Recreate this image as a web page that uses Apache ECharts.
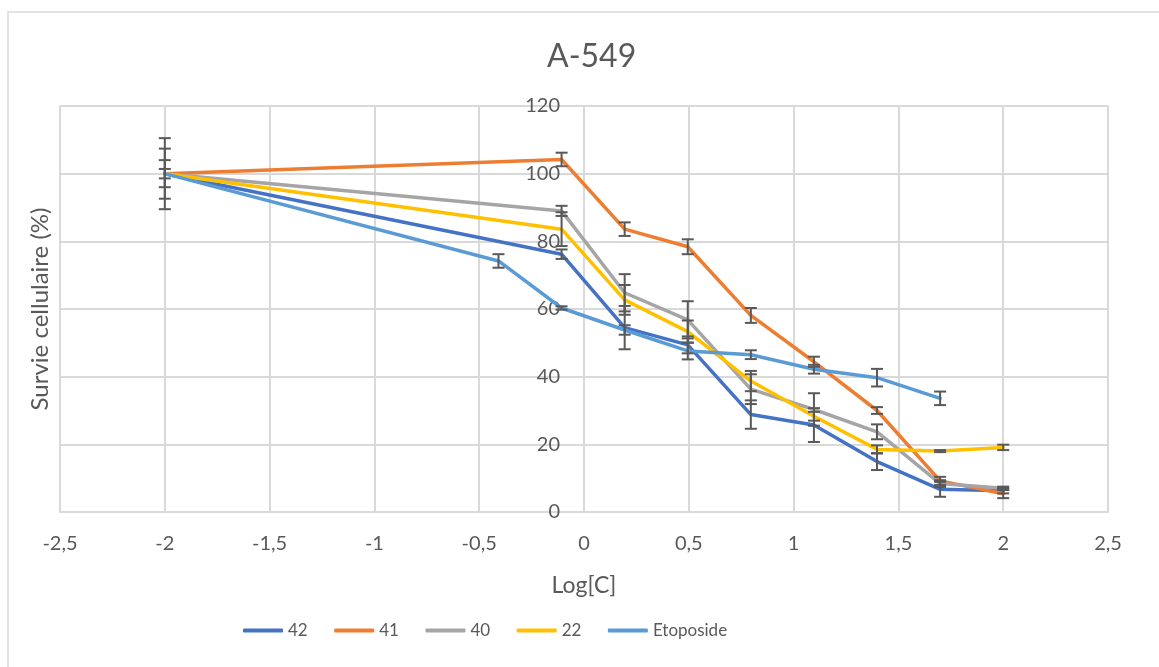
<!DOCTYPE html>
<html>
<head>
<meta charset="utf-8">
<script src="https://cdn.jsdelivr.net/npm/echarts@6/dist/echarts.min.js"></script>
<style>
html,body{margin:0;padding:0;background:#fff;}
#chart{width:1159px;height:667px;}
</style>
</head>
<body>
<div id="chart"></div>
<script>
// log concentrations
const xCompounds = [-2, -0.107, 0.194, 0.495, 0.796, 1.097, 1.398, 1.699, 2];
const xEtoposide = [-2, -0.408, -0.107, 0.194, 0.495, 0.796, 1.097, 1.398, 1.699];

const seriesNames = ['42', '41', '40', '22', 'Etoposide'];

const v42 = [100, 76.2, 54.5, 49.4, 28.8, 25.7, 14.9, 6.7, 6.3];
const e42 = [1.4, 1.4, 6.4, 2.5, 4.2, 5.0, 2.5, 2.2, 0.8];

const v41 = [100, 104.2, 83.6, 78.4, 58.1, 44.4, 30.0, 9.2, 5.4];
const e41 = [4.0, 2.0, 2.0, 2.2, 2.2, 1.5, 1.0, 1.2, 1.3];

const v40 = [100, 89.0, 64.8, 56.8, 36.3, 30.3, 23.7, 8.4, 7.0];
const e40 = [7.4, 1.5, 5.5, 5.5, 4.4, 4.8, 2.2, 1.0, 0.5];

const v22 = [100, 83.6, 62.7, 53.3, 38.7, 28.3, 18.5, 18.0, 19.1];
const e22 = [0, 5.0, 4.4, 3.3, 3.0, 1.3, 1.2, 0.3, 0.8];

const vEto = [100, 74.2, 60.3, 53.8, 47.6, 46.5, 42.2, 39.7, 33.6];
const eEto = [10.5, 2.0, 0.5, 1.4, 2.5, 1.3, 1.3, 2.6, 2.0];

const xTicks = {min: -2.5, max: 2.5, interval: 0.5};
const yTicks = {min: 0, max: 120, interval: 20};

const colors = ['#4472C4', '#ED7D31', '#A5A5A5', '#FFC000', '#5B9BD5'];
const FONT = 'Lato, "Open Sans", sans-serif';
const TXT = '#595959';

const GRID = {left: 60, right: 51, top: 106, bottom: 155};
const plotWidth = 1159 - GRID.left - GRID.right;
// y axis crosses the x axis at 0
const yAxisOffset = -plotWidth * (0 - xTicks.min) / (xTicks.max - xTicks.min);

function lineSeries(name, xs, ys, color) {
  return {
    type: 'line', name: name,
    data: xs.map((x, i) => [x, ys[i]]),
    symbol: 'none', showSymbol: false,
    lineStyle: {color: color, width: 3.5, cap: 'round', join: 'round'},
    itemStyle: {color: color},
    z: 2,
    animation: false
  };
}

function errSeries(name, xs, ys, es) {
  const data = [];
  xs.forEach((x, i) => { if (es[i] > 0) data.push([x, ys[i] - es[i], ys[i] + es[i]]); });
  return {
    type: 'custom', name: name + ' err',
    data: data,
    encode: {x: 0, y: [1, 2]},
    z: 5,
    silent: true,
    animation: false,
    renderItem: function (params, api) {
      const x = api.value(0);
      const lo = api.coord([x, api.value(1)]);
      const hi = api.coord([x, api.value(2)]);
      const h = 6;
      const st = {stroke: '#595959', lineWidth: 2};
      return {
        type: 'group',
        children: [
          {type: 'line', shape: {x1: lo[0], y1: lo[1], x2: hi[0], y2: hi[1]}, style: st},
          {type: 'line', shape: {x1: lo[0] - h, y1: lo[1], x2: lo[0] + h, y2: lo[1]}, style: st},
          {type: 'line', shape: {x1: hi[0] - h, y1: hi[1], x2: hi[0] + h, y2: hi[1]}, style: st}
        ]
      };
    }
  };
}

const chart = echarts.init(document.getElementById('chart'), null, {renderer: 'canvas'});
chart.setOption({
  backgroundColor: '#ffffff',
  animation: false,
  title: {
    text: 'A-549', left: 542, top: 36,
    textStyle: {fontFamily: FONT, fontSize: 32, fontWeight: 'normal', color: TXT}
  },
  legend: {
    data: seriesNames,
    left: 238, top: 617,
    itemWidth: 40, itemHeight: 4, itemGap: 26.5, itemTextGap: 4,
    icon: 'roundRect',
    textStyle: {fontFamily: FONT, fontSize: 17, color: TXT}
  },
  grid: GRID,
  xAxis: {
    type: 'value', min: xTicks.min, max: xTicks.max, interval: xTicks.interval,
    name: 'Log[C]', nameLocation: 'middle', nameGap: 62,
    nameTextStyle: {fontFamily: FONT, fontSize: 23, color: TXT},
    axisLine: {show: true, onZero: false, lineStyle: {color: '#D9D9D9', width: 2}},
    axisTick: {show: false},
    axisLabel: {
      fontFamily: FONT, fontSize: 20, color: TXT, margin: 22,
      formatter: v => String(v).replace('.', ',')
    },
    splitLine: {show: true, lineStyle: {color: '#D9D9D9', width: 2}}
  },
  yAxis: {
    type: 'value', min: yTicks.min, max: yTicks.max, interval: yTicks.interval,
    position: 'left', offset: yAxisOffset,
    axisLine: {show: true, onZero: false, lineStyle: {color: '#D9D9D9', width: 2}},
    axisTick: {show: false},
    axisLabel: {fontFamily: FONT, fontSize: 20, color: TXT, margin: 24},
    splitLine: {show: true, lineStyle: {color: '#D9D9D9', width: 2}}
  },
  graphic: [
    {type: 'rect', shape: {x: 8, y: 12, width: 1300, height: 800},
     style: {fill: 'none', stroke: '#D9D9D9', lineWidth: 1.5}, silent: true, z: -10},
    {type: 'text', x: 40, y: 309, rotation: Math.PI / 2,
     style: {text: 'Survie cellulaire (%)', fontFamily: FONT, fontSize: 24, fill: TXT,
             textAlign: 'center', textVerticalAlign: 'middle'}}
  ],
  series: [
    lineSeries('42', xCompounds, v42, colors[0]),
    lineSeries('41', xCompounds, v41, colors[1]),
    lineSeries('40', xCompounds, v40, colors[2]),
    lineSeries('22', xCompounds, v22, colors[3]),
    lineSeries('Etoposide', xEtoposide, vEto, colors[4]),
    errSeries('42', xCompounds, v42, e42),
    errSeries('41', xCompounds, v41, e41),
    errSeries('40', xCompounds, v40, e40),
    errSeries('22', xCompounds, v22, e22),
    errSeries('Etoposide', xEtoposide, vEto, eEto)
  ]
});
</script>
</body>
</html>
